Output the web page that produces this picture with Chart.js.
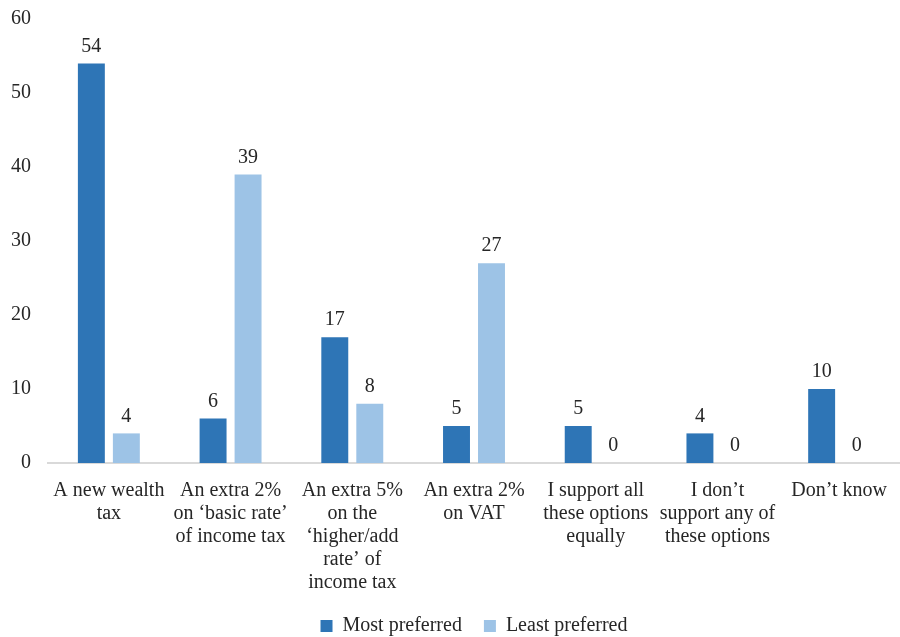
<!DOCTYPE html>
<html>
<head>
<meta charset="utf-8">
<script src="https://cdn.jsdelivr.net/npm/chart.js@4"></script>
<style>
  html, body { margin: 0; padding: 0; background: #fff; }
  #wrap { width: 900px; height: 637px; }
</style>
</head>
<body>
<div id="wrap"><canvas id="chart"></canvas></div>
<script>
const categories = [
    ["A new wealth", "tax"],
    ["An extra 2%", "on \u2018basic rate\u2019", "of income tax"],
    ["An extra 5%", "on the", "\u2018higher/add", "rate\u2019 of", "income tax"],
    ["An extra 2%", "on VAT"],
    ["I support all", "these options", "equally"],
    ["I don\u2019t", "support any of", "these options"],
    ["Don\u2019t know"]
];
const mostPreferred = [54, 6, 17, 5, 5, 4, 10];
const leastPreferred = [4, 39, 8, 27, 0, 0, 0];
const seriesNames = ["Most preferred", "Least preferred"];

const serif = "'Liberation Serif', 'Times New Roman', serif";

// draws the value above each bar, like the excel data labels
const valueLabels = {
    id: 'valueLabels',
    afterDatasetsDraw(chart) {
        const ctx = chart.ctx;
        ctx.save();
        ctx.font = "20px " + serif;
        ctx.fillStyle = "#262626";
        ctx.textAlign = "center";
        ctx.textBaseline = "bottom";
        chart.data.datasets.forEach((ds, i) => {
            chart.getDatasetMeta(i).data.forEach((bar, j) => {
                ctx.fillText(ds.data[j], bar.x, bar.y - 7);
            });
        });
        ctx.restore();
    }
};

window.onload = () => {
    const ctx = document.getElementById('chart').getContext('2d');
    new Chart(ctx, {
        type: 'bar',
        data: {
            labels: categories,
            datasets: [{
                label: seriesNames[0],
                data: mostPreferred,
                backgroundColor: "#2E75B6",
                categoryPercentage: 0.575,
                barPercentage: 0.77
            }, {
                label: seriesNames[1],
                data: leastPreferred,
                backgroundColor: "#9DC3E6",
                categoryPercentage: 0.575,
                barPercentage: 0.77
            }]
        },
        options: {
            responsive: true,
            maintainAspectRatio: false,
            animation: false,
            layout: { padding: { top: 19, right: 0, left: 0, bottom: 0 } },
            plugins: {
                tooltip: { enabled: false },
                legend: {
                    position: 'bottom',
                    fullSize: false,
                    maxHeight: 43,
                    labels: {
                        font: { family: serif, size: 20 },
                        color: "#262626",
                        boxWidth: 12,
                        boxHeight: 12,
                        padding: 22
                    }
                }
            },
            scales: {
                x: {
                    grid: { display: false },
                    border: { color: "#D9D9D9", width: 2 },
                    ticks: {
                        font: { family: serif, size: 20, lineHeight: 1.15 },
                        color: "#262626",
                        maxRotation: 0,
                        autoSkip: false,
                        padding: 8
                    },
                    afterFit(scale) { scale.height = 131; }
                },
                y: {
                    min: 0,
                    max: 60,
                    grid: { display: false, drawTicks: false },
                    border: { display: false },
                    ticks: {
                        stepSize: 10,
                        font: { family: serif, size: 20 },
                        color: "#262626",
                        padding: 17
                    },
                    afterFit(scale) {
                        scale.width = 48;
                        scale.paddingTop = 0;
                        scale.paddingBottom = 0;
                    }
                }
            }
        },
        plugins: [valueLabels]
    });
};
</script>
</body>
</html>
